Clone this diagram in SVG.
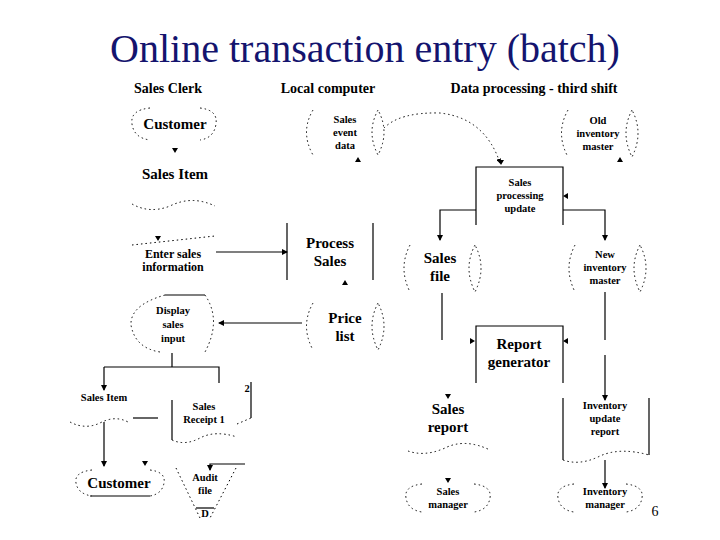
<svg xmlns="http://www.w3.org/2000/svg" width="720" height="540" viewBox="0 0 720 540">
<defs>
<marker id="ah" viewBox="0 0 6 6" refX="5" refY="3" markerWidth="5" markerHeight="5" orient="auto"><path d="M0,0 L6,3 L0,6 z" fill="#000"/></marker>
</defs>
<style>
text{font-family:"Liberation Serif","Times New Roman",serif;fill:#000;text-anchor:middle}
.h{font-size:14px;font-weight:bold}
.b{font-size:15px;font-weight:bold}
.s{font-size:10.5px;font-weight:bold}
.m{font-size:12px;font-weight:bold}
.d{fill:none;stroke:#000;stroke-width:1;stroke-dasharray:1.5 3}
.l{fill:none;stroke:#000;stroke-width:1.2}
</style>
<rect width="720" height="540" fill="#fff"/>
<text x="365" y="62" style="font-size:40px;fill:#14146e">Online transaction entry (batch)</text>
<text class="h" x="168" y="93">Sales Clerk</text>
<text class="h" x="328" y="93">Local computer</text>
<text class="h" x="534" y="93">Data processing - third shift</text>

<g id="connectors">
<path class="l" d="M216,252 H287" marker-end="url(#ah)"/>
<path class="l" d="M302,323 H219" marker-end="url(#ah)"/>
<path class="l" d="M172,353 V367 M104,367 H219 V383"/>
<path class="l" d="M104,367 V390" marker-end="url(#ah)"/>
<path class="l" d="M104,422 V466" marker-end="url(#ah)"/>
<path class="l" d="M133,418 H158"/>
<path class="l" d="M245,464 H210 V470" marker-end="url(#ah)"/>
<path class="d" d="M384,128 Q400,112 440,113 Q485,118 500,163" marker-end="url(#ah)"/>
<path class="l" d="M476,210 H440 V240" marker-end="url(#ah)"/>
<path class="l" d="M563,210 H605 V240" marker-end="url(#ah)"/>
<path class="l" d="M442,293 V340 M605,292 V340 M605,355 V400" marker-end="url(#ah)"/>
<path class="l" d="M605,460 V488" marker-end="url(#ah)"/>
<path d="M172,148 l3,5 l3,-5z M355,162 l3,-5 l3,5z M342,285 l3,-5 l3,5z M617,162 l3,-5 l3,5z M155,236 l3,5 l3,-5z M142,461 l3,5 l3,-5z M445,394 l3,5 l3,-5z M445,478 l3,5 l3,-5z M498,160 l3,5 l3,-5z M568,193 l-5,3 l5,3z M470,338 l5,3 l-5,3z M568,338 l-5,3 l5,3z"/>
</g>

<g id="customer1"><path class="d" d="M150,108 Q130,110 132,124 Q134,138 150,140 M200,108 Q218,110 216,124 Q214,138 200,140"/><text class="b" x="175" y="129">Customer</text></g>
<g id="salesitem1"><text class="b" x="175" y="179">Sales Item</text><path class="d" d="M132,204 Q150,214 170,206 Q192,195 215,206"/></g>
<g id="enter"><path class="d" d="M132,245 L215,236"/><text class="m" x="173" y="258">Enter sales</text><text class="m" x="173" y="271">information</text></g>
<g id="process"><path class="l" d="M287,223 V280 M373,223 V280"/><text class="b" x="330" y="248">Process</text><text class="b" x="330" y="266">Sales</text></g>
<g id="salesevent"><path class="d" d="M313,110 Q300,132 313,155 M378,110 Q366,132 378,155 Q390,132 378,110"/><text class="s" x="345" y="123">Sales</text><text class="s" x="345" y="136">event</text><text class="s" x="345" y="149">data</text></g>
<g id="price"><path class="d" d="M313,303 Q300,326 313,350 M378,303 Q366,326 378,350 Q390,326 378,303"/><text class="b" x="345" y="323">Price</text><text class="b" x="345" y="341">list</text></g>
<g id="display"><path class="l" d="M165,295 H205"/><path class="d" d="M165,295 Q130,305 131,325 Q135,348 160,352 M205,295 Q222,320 205,352"/><text class="s" x="173" y="314">Display</text><text class="s" x="173" y="328">sales</text><text class="s" x="173" y="342">input</text></g>
<g id="salesitem2"><text class="s" x="104" y="401">Sales Item</text><path class="d" d="M70,422 Q85,430 100,423 Q115,415 128,422"/></g>
<g id="receipt"><path class="l" d="M172,400 V440 M251,382 V418"/><path class="d" d="M172,440 Q185,446 200,438 Q215,430 237,437 M237,424 L251,418"/><text class="s" x="204" y="410">Sales</text><text class="s" x="204" y="423">Receipt 1</text><text class="s" x="247" y="392">2</text></g>
<g id="customer2"><path class="d" d="M92,470 Q74,472 76,483 Q78,494 92,496 M150,470 Q166,472 164,483 Q162,494 150,496"/><path class="l" d="M90,496 H150"/><text class="b" x="119" y="488">Customer</text></g>
<g id="audit"><path class="d" d="M176,468 L200,518 M236,468 L210,518"/><path class="l" d="M196,508 H214"/><text class="s" x="205" y="481">Audit</text><text class="s" x="205" y="494">file</text><text class="s" x="205" y="517">D</text></g>
<g id="spu"><path class="l" d="M476,225 V167 H563 V225"/><text class="s" x="520" y="186">Sales</text><text class="s" x="520" y="199">processing</text><text class="s" x="520" y="212">update</text></g>
<g id="oldinv"><path class="d" d="M568,110 Q555,133 568,157 M632,110 Q620,133 632,157 Q644,133 632,110"/><text class="s" x="598" y="124">Old</text><text class="s" x="598" y="137">inventory</text><text class="s" x="598" y="150">master</text></g>
<g id="salesfile"><path class="d" d="M410,245 Q398,268 410,292 M475,245 Q463,268 475,292 Q487,268 475,245"/><text class="b" x="440" y="263">Sales</text><text class="b" x="440" y="281">file</text></g>
<g id="newinv"><path class="d" d="M575,245 Q563,268 575,292 M640,245 Q628,268 640,292 Q652,268 640,245"/><text class="s" x="605" y="258">New</text><text class="s" x="605" y="271">inventory</text><text class="s" x="605" y="284">master</text></g>
<g id="report"><path class="l" d="M476,383 V326 H563 V383"/><text class="b" x="519" y="349">Report</text><text class="b" x="519" y="367">generator</text></g>
<g id="salesreport"><text class="b" x="448" y="414">Sales</text><text class="b" x="448" y="432">report</text><path class="d" d="M408,451 Q425,457 445,448 Q465,438 490,450"/></g>
<g id="invreport"><path class="l" d="M563,398 V460 M649,398 V455"/><path class="d" d="M563,460 Q580,466 600,456 Q620,447 649,455"/><text class="s" x="605" y="409">Inventory</text><text class="s" x="605" y="422">update</text><text class="s" x="605" y="435">report</text></g>
<g id="salesmgr"><path class="d" d="M422,484 Q404,486 406,498 Q408,510 422,512 M474,484 Q492,486 490,498 Q488,510 474,512"/><text class="s" x="448" y="495">Sales</text><text class="s" x="448" y="508">manager</text></g>
<g id="invmgr"><path class="d" d="M574,484 Q556,486 558,498 Q560,510 574,512 M626,484 Q644,486 642,498 Q640,510 626,512"/><text class="s" x="605" y="495">Inventory</text><text class="s" x="605" y="508">manager</text></g>
<text x="655" y="516" style="font-size:14px">6</text>
</svg>
